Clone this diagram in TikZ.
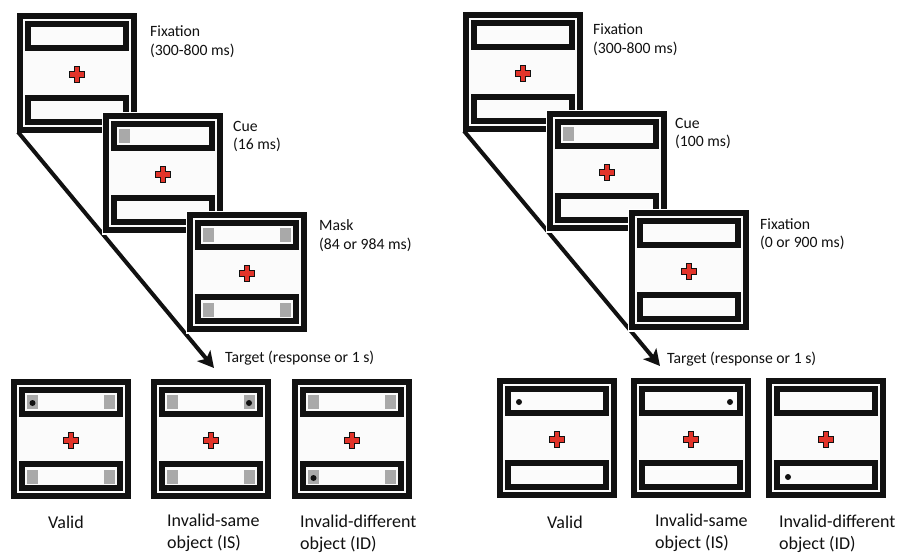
\documentclass[tikz,border=0pt]{standalone}
\usepackage{fontspec}
\setmainfont{Carlito}
\usetikzlibrary{arrows.meta}
\definecolor{crossred}{HTML}{E2342A}
\definecolor{cuegray}{HTML}{A9A9A9}
\definecolor{panelfill}{HTML}{FBFBFB}
\definecolor{inkblack}{HTML}{111111}
\tikzset{
 stimframe/.style={rectangle, draw=inkblack, line width=6pt, fill=panelfill, minimum width=114pt, minimum height=114pt, inner sep=0pt, outer sep=0pt, preaction={draw=white, line width=9pt}},
 holder/.style={draw=inkblack, line width=6pt},
 fixcross/.style={fill=crossred, draw=inkblack, line width=0.9pt, line join=miter},
 cuebox/.style={fill=cuegray},
 probe/.style={fill=inkblack},
 steplabel/.style={font=\fontsize{15.7}{18.5}\selectfont, align=left, anchor=north west, inner sep=0pt, text=inkblack},
 condlabel/.style={font=\fontsize{18}{21.5}\selectfont, align=left, anchor=north west, inner sep=0pt, text=inkblack},
 targetlabel/.style={font=\fontsize{15.7}{18.5}\selectfont, anchor=west, inner sep=0pt, text=inkblack},
 seqarrow/.style={draw=inkblack, line width=4pt, -{Stealth[length=16pt,width=17pt,inset=4pt]}},
}
\newcommand\cuesq[2]{\path[cuebox] (#1-5.5,#2-7) rectangle (#1+5.5,#2+7);}
\newcommand\allcues{\cuesq{21.5}{23}\cuesq{98}{23}\cuesq{21.5}{98}\cuesq{98}{98}}
\newcommand\probedot[2]{\path[probe] (#1,#2) circle (3);}
\newcommand\mkstim[4]{\begin{scope}[shift={(#2,#3)}]
 \node[stimframe] (#1) at (60,60) {};
 \draw[holder] (11,11) rectangle (109,35);
 \draw[holder] (11,85) rectangle (109,109);
 \begin{scope}[shift={(60,61.5)}]
 \path[fixcross] (-2.7,-7.7) -- (2.7,-7.7) -- (2.7,-2.7) -- (7.7,-2.7) -- (7.7,2.7) -- (2.7,2.7) -- (2.7,7.7) -- (-2.7,7.7) -- (-2.7,2.7) -- (-7.7,2.7) -- (-7.7,-2.7) -- (-2.7,-2.7) -- cycle;
 \end{scope}
 #4
\end{scope}}
\begin{document}
\begin{tikzpicture}[x=1pt,y=-1pt]
\useasboundingbox (0,0) rectangle (905,554);
\fill[white] (0,0) rectangle (905,554);
% ---------------- left panel ----------------
\mkstim{L1}{17}{13}{}
\coordinate (Ltip) at (214,368);
\draw[seqarrow] ([shift={(-2,2)}]L1.south west) -- (Ltip);
\mkstim{L2}{103}{113}{\cuesq{21.5}{23}}
\mkstim{L3}{187}{212}{\allcues}
\node[steplabel] (l1lab) at (150,25.5) {Fixation\\(300-800 ms)};
\node[steplabel] (l2lab) at (233,121) {Cue\\(16 ms)};
\node[steplabel] (l3lab) at (319,219.5) {Mask\\(84 or 984 ms)};
\node[targetlabel] (ltarget) at (225,358) {Target (response or 1 s)};
\mkstim{LV}{11}{379}{\allcues\probedot{21.5}{24}}
\mkstim{LS}{151}{379}{\allcues\probedot{98}{24}}
\mkstim{LD}{292}{379}{\allcues\probedot{21.5}{99}}
\node[condlabel] (lvlab) at (48,516) {Valid};
\node[condlabel] (lslab) at (167,514) {Invalid-same\\object (IS)};
\node[condlabel] (ldlab) at (300,515) {Invalid-different\\object (ID)};
% ---------------- right panel ----------------
\mkstim{R1}{463}{12}{}
\coordinate (Rtip) at (660,366);
\draw[seqarrow] ([shift={(-2,2)}]R1.south west) -- (Rtip);
\mkstim{R2}{547}{111}{\cuesq{21.5}{23}}
\mkstim{R3}{629}{210}{}
\node[steplabel] (r1lab) at (593,23.5) {Fixation\\(300-800 ms)};
\node[steplabel] (r2lab) at (675,118) {Cue\\(100 ms)};
\node[steplabel] (r3lab) at (760,218) {Fixation\\(0 or 900 ms)};
\node[targetlabel] (rtarget) at (667,359) {Target (response or 1 s)};
\mkstim{RV}{497}{378}{\probedot{22}{24}}
\mkstim{RS}{631}{378}{\probedot{99}{24}}
\mkstim{RD}{766}{378}{\probedot{22}{99}}
\node[condlabel] (rvlab) at (547,516) {Valid};
\node[condlabel] (rslab) at (655,514) {Invalid-same\\object (IS)};
\node[condlabel] (rdlab) at (779,515) {Invalid-different\\object (ID)};
\end{tikzpicture}
\end{document}
